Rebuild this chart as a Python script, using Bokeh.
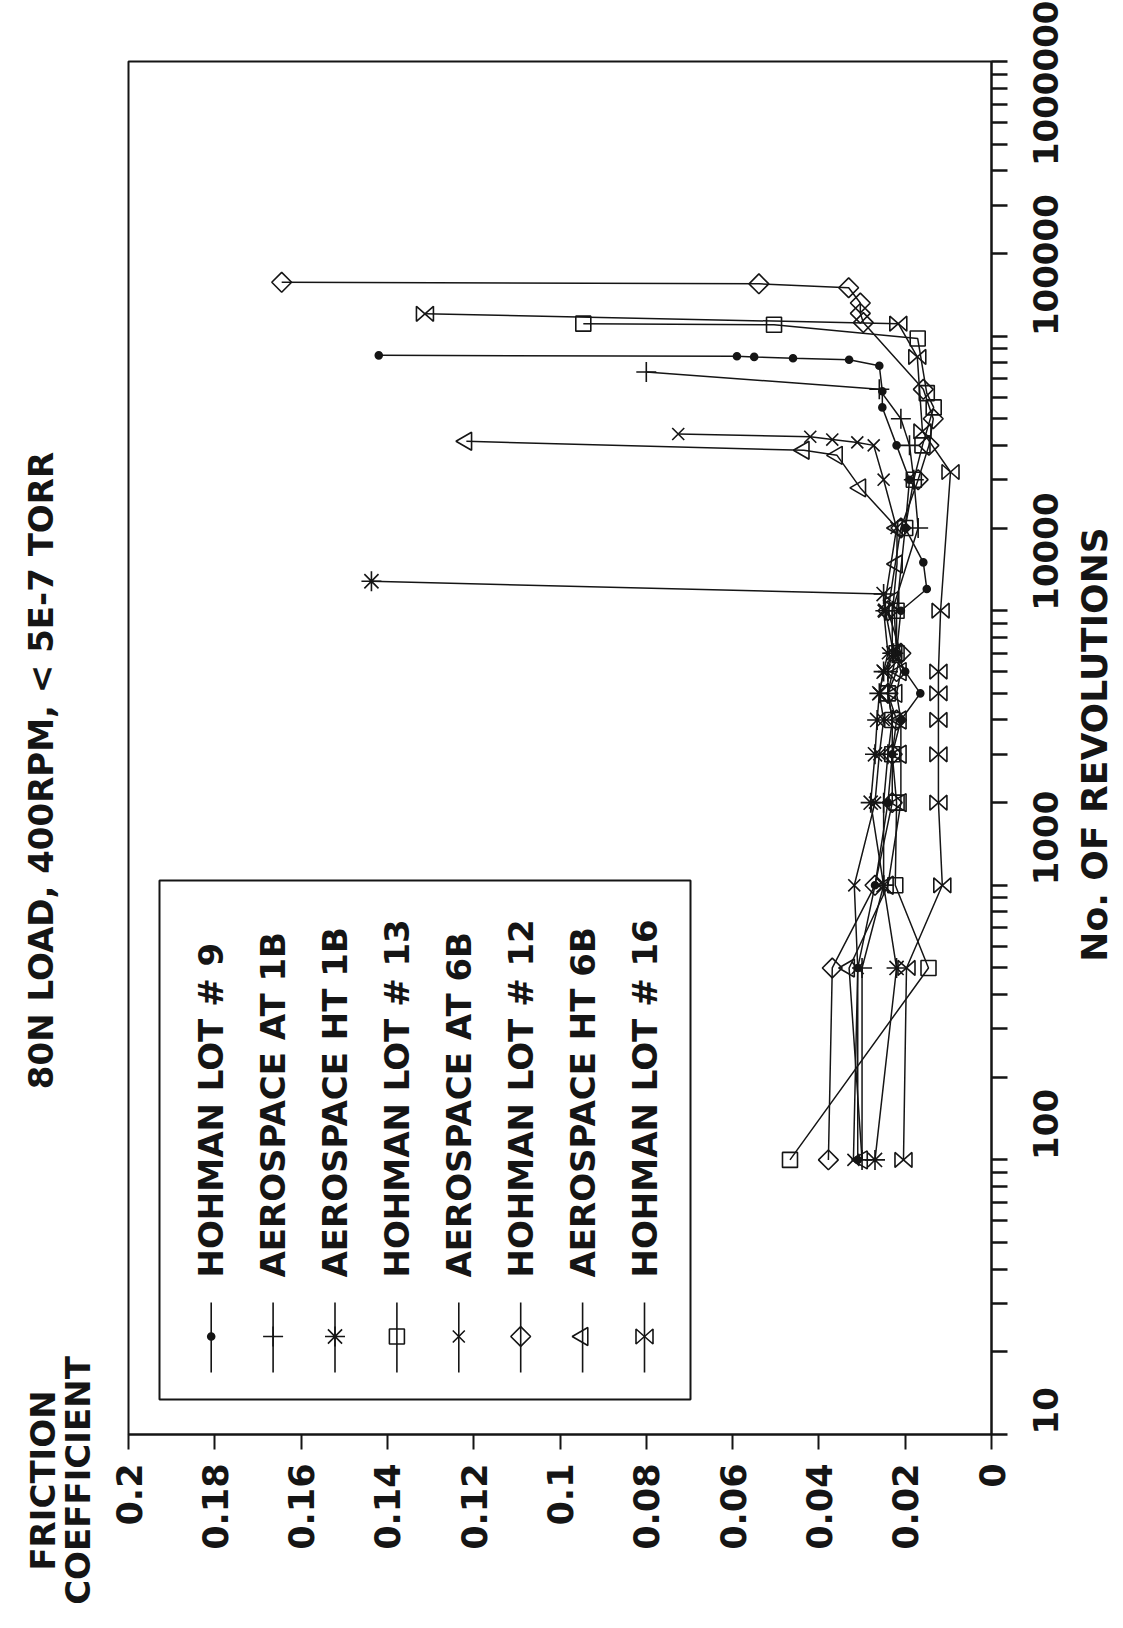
import math
from bokeh.plotting import figure
from bokeh.models import Range1d, FixedTicker, CustomJSTickFormatter, Label
from bokeh.embed import file_html
from bokeh.resources import INLINE

# ---------------- data ----------------
title_text = "80N LOAD, 400RPM, < 5E-7 TORR"
x_title = "No. OF REVOLUTIONS"
y_title_1 = "FRICTION"
y_title_2 = "COEFFICIENT"

fric_ticks = [0, 0.02, 0.04, 0.06, 0.08, 0.1, 0.12, 0.14, 0.16, 0.18, 0.2]
rev_ticks = [10, 100, 1000, 10000, 100000, 1000000]

names = ["HOHMAN LOT # 9", "AEROSPACE AT 1B", "AEROSPACE HT 1B", "HOHMAN LOT # 13",
         "AEROSPACE AT 6B", "HOHMAN LOT # 12", "AEROSPACE HT 6B", "HOHMAN LOT # 16"]

lot9_rev = [100, 500, 1000, 2000, 3000, 4000, 5000, 6000, 7000, 10000, 12000, 15000, 20000,
            30000, 40000, 55000, 63000, 78000, 82000, 83000, 84000, 84500, 85100]
lot9_fric = [0.031, 0.031, 0.027, 0.024, 0.023, 0.021, 0.0165, 0.020, 0.022, 0.021, 0.0150, 0.0158, 0.020,
             0.019, 0.022, 0.0253, 0.0253, 0.026, 0.033, 0.046, 0.055, 0.059, 0.142]

at1b_rev = [100, 500, 1000, 2000, 3000, 4000, 5000, 6000, 7000, 10000, 20000, 30000, 40000,
            50000, 64000, 74000]
at1b_fric = [0.030, 0.030, 0.025, 0.025, 0.024, 0.023, 0.024, 0.024, 0.023, 0.023, 0.017, 0.018, 0.019,
             0.021, 0.026, 0.080]

ht1b_rev = [100, 500, 1000, 2000, 3000, 4000, 5000, 6000, 7000, 10000, 11500, 12800]
ht1b_fric = [0.027, 0.022, 0.025, 0.028, 0.027, 0.0265, 0.026, 0.025, 0.0227, 0.0246, 0.025, 0.1437]

lot13_rev = [100, 500, 1000, 2000, 3000, 4000, 5000, 7000, 10000, 20000, 30000, 40000, 55000,
             62000, 98000, 110000, 111000]
lot13_fric = [0.0467, 0.0146, 0.0223, 0.022, 0.023, 0.023, 0.024, 0.022, 0.022, 0.020, 0.018, 0.016, 0.0134,
              0.0150, 0.0171, 0.0504, 0.0946]

at6b_rev = [100, 500, 1000, 2000, 3000, 4000, 5000, 6000, 7000, 10000, 20000, 30000, 40000,
            41000, 42000, 43000, 44000]
at6b_fric = [0.032, 0.031, 0.0318, 0.027, 0.026, 0.025, 0.026, 0.025, 0.024, 0.025, 0.022, 0.025, 0.0273,
             0.0311, 0.0369, 0.042, 0.0726]

lot12_rev = [100, 500, 1000, 2000, 3000, 4000, 5000, 6000, 7000, 10000, 20000, 30000, 40000,
             50000, 64000, 112000, 121000, 132000, 150000, 155000, 157000]
lot12_fric = [0.0378, 0.0369, 0.027, 0.023, 0.023, 0.022, 0.024, 0.022, 0.021, 0.024, 0.021, 0.017, 0.0145,
              0.0135, 0.0158, 0.0297, 0.0304, 0.0304, 0.0331, 0.0539, 0.1645]

ht6b_rev = [100, 500, 1000, 2000, 3000, 4000, 5000, 6000, 7000, 10900, 14800, 20000, 28000,
            36800, 38400, 41400]
ht6b_fric = [0.030, 0.033, 0.024, 0.021, 0.021, 0.021, 0.022, 0.021, 0.022, 0.0227, 0.0219, 0.0219, 0.0304,
             0.0358, 0.0435, 0.1217]

lot16_rev = [100, 500, 1000, 2000, 3000, 4000, 5000, 6000, 10000, 32000, 45000, 84000, 111000, 120500]
lot16_fric = [0.0204, 0.0197, 0.0114, 0.0123, 0.0123, 0.0123, 0.0123, 0.0123, 0.0118, 0.0095, 0.016,
              0.0172, 0.0216, 0.1313]

series = [
    (lot9_rev, lot9_fric), (at1b_rev, at1b_fric), (ht1b_rev, ht1b_fric), (lot13_rev, lot13_fric),
    (at6b_rev, at6b_fric), (lot12_rev, lot12_fric), (ht6b_rev, ht6b_fric), (lot16_rev, lot16_fric),
]

# ---------------- layout / style ----------------
INK = "#151515"
FONT = "DejaVu Sans"
W, H = 1123, 1628
BL, BT = 128, 61
FW, FH = 863, 1373
BR = W - BL - FW
BB = H - BT - FH
X0, X1 = 0.2, 0.0
Y0, Y1 = 10.0, 1e6
DEC = FH / math.log10(Y1 / Y0)

# marker styles: (marker, size, angle, filled)
styles = [
    ("circle", 7, 0.0, True),
    ("cross", 20, 0.0, False),
    ("asterisk", 20, 0.0, False),
    ("square", 15, 0.0, False),
    ("x", 17, 0.0, False),
    ("square", 14, math.pi / 4, False),
    ("triangle", 18, math.pi / 2, False),
    ("bowtie", 0, 0.0, False),
]


def sx_to_x(sx):
    return X0 + (X1 - X0) * sx / FW


def sy_to_y(sy):
    return Y0 * 10 ** (sy / DEC)


def bowties(xs, ys, hw=8.5, hh=7.5):
    dx = (X0 - X1) * hw / FW
    k = 10 ** (hh / DEC)
    px, py = [], []
    for x, y in zip(xs, ys):
        px.append([x + dx, x - dx, x - dx, x + dx])
        py.append([y * k, y / k, y * k, y / k])
    return px, py


p = figure(width=W, height=H, x_range=Range1d(X0, X1), y_range=Range1d(Y0, Y1),
           y_axis_type="log", y_axis_location="right",
           output_backend="svg", toolbar_location=None,
           min_border_left=BL, min_border_right=BR, min_border_top=BT, min_border_bottom=BB)
p.grid.visible = False
p.outline_line_color = INK
p.outline_line_width = 2
p.background_fill_color = "white"
p.border_fill_color = "white"

# friction axis (bottom)
xa = p.xaxis[0]
xa.ticker = FixedTicker(ticks=fric_ticks)
xa.formatter = CustomJSTickFormatter(code="return String(Math.round(tick*100)/100);")
xa.major_label_orientation = math.pi / 2
xa.major_tick_out = 15
xa.major_tick_in = 0
xa.minor_tick_out = 0
xa.minor_tick_in = 0
xa.major_tick_line_width = 2
xa.major_tick_line_color = INK
xa.axis_line_width = 2
xa.axis_line_color = INK
xa.major_label_standoff = 14
xa.major_label_text_font = FONT
xa.major_label_text_font_style = "bold"
xa.major_label_text_font_size = "35px"
xa.major_label_text_color = INK

# revolutions axis (right)
minor = [m * 10 ** e for e in range(1, 6) for m in range(2, 10)]
ya = p.yaxis[0]
ya.ticker = FixedTicker(ticks=rev_ticks, minor_ticks=minor)
ya.formatter = CustomJSTickFormatter(code="return String(Math.round(tick));")
ya.major_label_orientation = math.pi / 2
ya.major_tick_out = 16
ya.major_tick_in = 0
ya.minor_tick_out = 16
ya.minor_tick_in = 0
ya.major_tick_line_width = 2.5
ya.minor_tick_line_width = 2.5
ya.major_tick_line_color = INK
ya.minor_tick_line_color = INK
ya.axis_line_width = 2
ya.axis_line_color = INK
ya.major_label_standoff = 38
ya.major_label_text_font = FONT
ya.major_label_text_font_style = "bold"
ya.major_label_text_font_size = "34px"
ya.major_label_text_color = INK

# ---------------- data series ----------------
for (rev, fric), (mk, sz, ang, filled) in zip(series, styles):
    p.line(x=fric, y=rev, line_color=INK, line_width=1.5)
    if mk == "bowtie":
        bx, by = bowties(fric, rev)
        p.patches(xs=bx, ys=by, fill_color=None, line_color=INK, line_width=1.6)
    else:
        p.scatter(x=fric, y=rev, marker=mk, size=sz, angle=ang,
                  fill_color=INK if filled else None, line_color=INK, line_width=1.6)

# ---------------- legend (drawn rotated, like the page) ----------------
p.quad(left=sx_to_x(31), right=sx_to_x(562), bottom=sy_to_y(35), top=sy_to_y(554),
       fill_color=None, line_color=INK, line_width=2)
for i, (name, (mk, sz, ang, filled)) in enumerate(zip(names, styles)):
    sx = 82.7 + 61.9 * i
    lx = sx_to_x(sx)
    p.segment(x0=[lx], y0=[sy_to_y(62)], x1=[lx], y1=[sy_to_y(132)], line_color=INK, line_width=1.6)
    my = sy_to_y(98)
    if mk == "bowtie":
        bx, by = bowties([lx], [my])
        p.patches(xs=bx, ys=by, fill_color=None, line_color=INK, line_width=1.6)
    else:
        p.scatter(x=[lx], y=[my], marker=mk, size=sz, angle=ang,
                  fill_color=INK if filled else None, line_color=INK, line_width=1.6)
    p.add_layout(Label(x=lx, y=sy_to_y(157), text=name, angle=math.pi / 2,
                       text_align="left", text_baseline="middle", text_font=FONT,
                       text_font_style="bold", text_font_size="34px", text_color=INK))


# ---------------- titles (outside the frame, in side panels) ----------------
def side_label(text, sx, sy, size, side):
    lab = Label(x=sx_to_x(sx), y=sy_to_y(sy), text=text, angle=math.pi / 2,
                text_align="center", text_baseline="middle", text_font=FONT,
                text_font_style="bold", text_font_size=size, text_color=INK)
    p.add_layout(lab, side)


side_label(title_text, -88, 664, "34px", "left")
side_label(y_title_1, -86, -46, "34px", "left")
side_label(y_title_2, -51, -46, "34px", "left")
side_label(x_title, 966, 690, "36px", "right")

open("out.html", "w").write(file_html(p, INLINE))
